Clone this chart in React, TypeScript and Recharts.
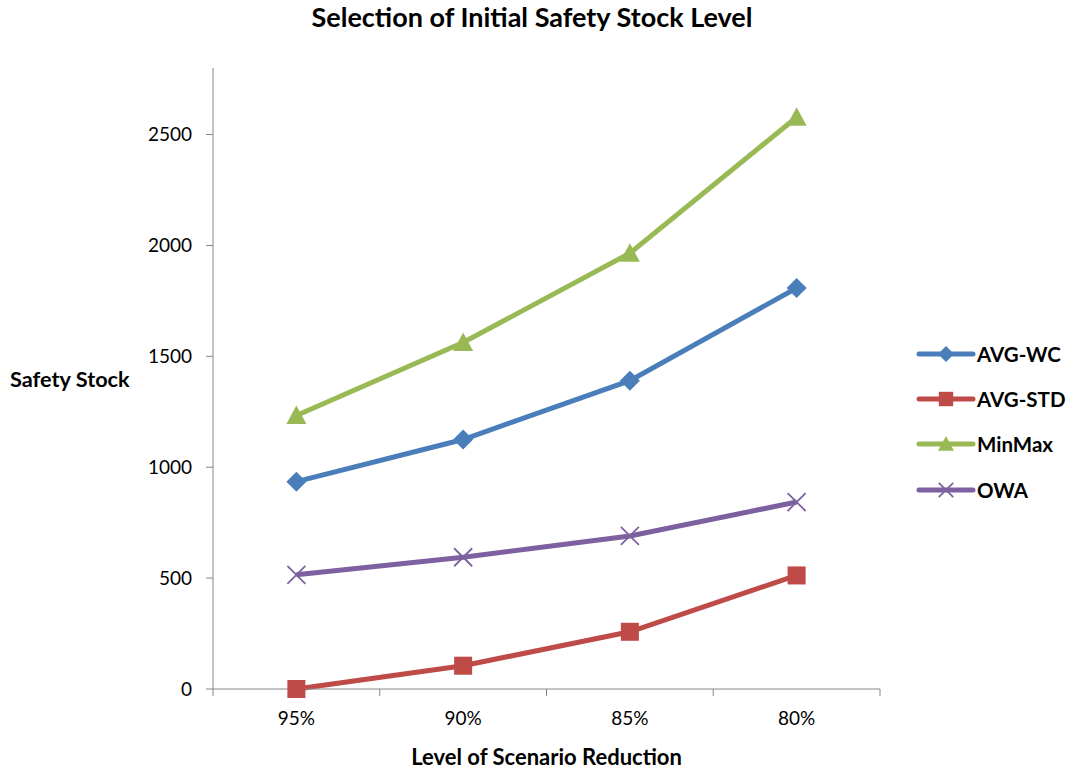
import { Line, LineChart, XAxis, YAxis } from "recharts";

// Initial safety stock per scenario-reduction level, four selection rules.
// Office-2007 palette, thick lines, solid markers, gray hairline axes.

const LEVELS = ["95%", "90%", "85%", "80%"];
const AVG_WC = [935, 1125, 1390, 1808];
const AVG_STD = [0, 105, 258, 512];
const MIN_MAX = [1233, 1562, 1965, 2578];
const OWA = [515, 594, 690, 843];
const Y_TICKS = [0, 500, 1000, 1500, 2000, 2500];

const data = LEVELS.map((level, i) => ({
  level,
  avgWc: AVG_WC[i],
  avgStd: AVG_STD[i],
  minMax: MIN_MAX[i],
  owa: OWA[i],
}));

const W = 1070;
const H = 771;
const MARGIN = { top: 68, right: 190, bottom: 0, left: 0 };
const Y_WIDTH = 213;
const X_HEIGHT = 82;
const STEP = (W - Y_WIDTH - MARGIN.right) / LEVELS.length;

const FONT = "Lato, 'Open Sans', sans-serif";
const AXIS = "#868686";

const SERIES = [
  { key: "avgWc", name: "AVG-WC", color: "#4A7EBB", shape: "diamond" },
  { key: "avgStd", name: "AVG-STD", color: "#BE4B48", shape: "square" },
  { key: "minMax", name: "MinMax", color: "#98B954", shape: "triangle" },
  { key: "owa", name: "OWA", color: "#7D60A0", shape: "cross" },
] as const;

type Shape = (typeof SERIES)[number]["shape"];

function Marker({ cx, cy, shape, color, s = 1 }: { cx: number; cy: number; shape: Shape; color: string; s?: number }) {
  if (cx == null || cy == null) return null;
  if (shape === "diamond") {
    const r = 10 * s;
    return <polygon points={`${cx},${cy - r} ${cx + r},${cy} ${cx},${cy + r} ${cx - r},${cy}`} fill={color} />;
  }
  if (shape === "square") {
    const r = 9 * s;
    return <rect x={cx - r} y={cy - r} width={2 * r} height={2 * r} fill={color} />;
  }
  if (shape === "triangle") {
    const r = 10 * s;
    return <polygon points={`${cx},${cy - r} ${cx + r},${cy + r * 0.85} ${cx - r},${cy + r * 0.85}`} fill={color} />;
  }
  const r = 9 * s;
  return (
    <g stroke={color} strokeWidth={1.8}>
      <line x1={cx - r} y1={cy - r} x2={cx + r} y2={cy + r} />
      <line x1={cx - r} y1={cy + r} x2={cx + r} y2={cy - r} />
    </g>
  );
}

// Category ticks sit on the band boundaries, labels in the middle.
function LevelTick(props: any) {
  const { x, y, payload, index } = props;
  const top = y - 8;
  return (
    <g>
      <line x1={x - STEP / 2} y1={top} x2={x - STEP / 2} y2={top + 7} stroke={AXIS} />
      {index === LEVELS.length - 1 && (
        <line x1={x + STEP / 2} y1={top} x2={x + STEP / 2} y2={top + 7} stroke={AXIS} />
      )}
      <text x={x} y={y + 28} textAnchor="middle" fontSize={19} fill="#000" fontFamily={FONT}>
        {payload.value}
      </text>
    </g>
  );
}

function LegendBox() {
  return (
    <div style={{ position: "absolute", left: 915, top: 331, fontFamily: FONT }}>
      {SERIES.map((s) => (
        <div key={s.key} style={{ display: "flex", alignItems: "center", height: 45.3 }}>
          <svg width={62} height={24}>
            <line x1={4} y1={12} x2={58} y2={12} stroke={s.color} strokeWidth={5} strokeLinecap="round" />
            <Marker cx={31} cy={12} shape={s.shape} color={s.color} s={0.8} />
          </svg>
          <span style={{ fontSize: 20.5, fontWeight: 700 }}>{s.name}</span>
        </div>
      ))}
    </div>
  );
}

export default function App() {
  return (
    <div style={{ position: "absolute", left: 0, top: 0, width: W, height: H, background: "#fff", fontFamily: FONT }}>
      <div style={{ position: "absolute", top: 0, left: 0, width: W - 6, textAlign: "center", fontSize: 27, fontWeight: 700 }}>
        Selection of Initial Safety Stock Level
      </div>
      <div style={{ position: "absolute", top: 366, left: 10, fontSize: 21.7, fontWeight: 700 }}>Safety Stock</div>
      <LineChart width={W} height={H} data={data} margin={MARGIN}>
        <XAxis
          dataKey="level"
          height={X_HEIGHT}
          padding={{ left: STEP / 2, right: STEP / 2 }}
          stroke={AXIS}
          tickLine={false}
          tick={<LevelTick />}
          interval={0}
          label={{
            value: "Level of Scenario Reduction",
            position: "insideBottom",
            offset: 6,
            fill: "#000",
            fontSize: 22,
            fontWeight: 700,
            fontFamily: FONT,
          }}
        />
        <YAxis
          width={Y_WIDTH}
          domain={[0, 2800]}
          ticks={Y_TICKS}
          interval={0}
          stroke={AXIS}
          tickSize={7}
          tickMargin={14}
          tick={{ fill: "#000", fontSize: 19, fontFamily: FONT }}
        />
        {SERIES.map((s) => (
          <Line
            key={s.key}
            dataKey={s.key}
            name={s.name}
            stroke={s.color}
            strokeWidth={5}
            isAnimationActive={false}
            dot={(p: any) => <Marker key={`${s.key}-${p.index}`} cx={p.cx} cy={p.cy} shape={s.shape} color={s.color} />}
            activeDot={false}
          />
        ))}
      </LineChart>
      <LegendBox />
    </div>
  );
}
